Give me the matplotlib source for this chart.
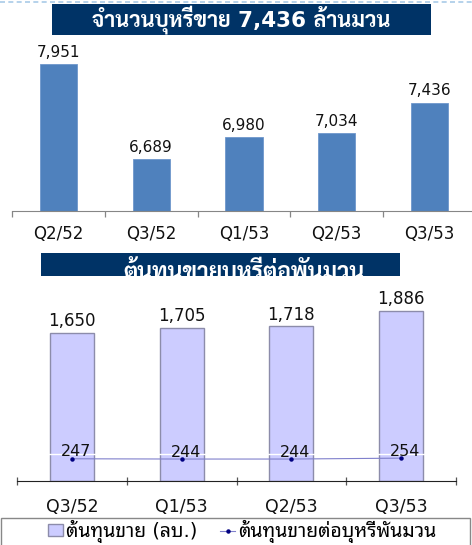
import matplotlib
matplotlib.use("Agg")
import matplotlib.pyplot as plt
import matplotlib.patches as mpatches
from matplotlib.lines import Line2D
import numpy as np

TOP_TITLE = "จำนวนบุหรี่ขาย 7,436 ล้านมวน"
BOTTOM_TITLE = "ต้นทุนขายบุหรี่ต่อพันมวน"

TOP_QUARTERS = ["Q2/52", "Q3/52", "Q1/53", "Q2/53", "Q3/53"]
CIGS_SOLD = [7951, 6689, 6980, 7034, 7436]

BOTTOM_QUARTERS = ["Q3/52", "Q1/53", "Q2/53", "Q3/53"]
COST_OF_SALES = [1650, 1705, 1718, 1886]
COST_PER_THOUSAND = [247, 244, 244, 254]

COST_LABEL = "ต้นทุนขาย (ลบ.)"
PER_LABEL = "ต้นทุนขายต่อบุหรี่พันมวน"

NAVY = "#003366"
W, H = 472, 545
BOLD_FAMILY = ["DejaVu Sans", "Sarabun", "Noto Sans Thai Looped"]


def px_box(x0, y0, x1, y1):
    # pixel box (from top-left) -> figure fraction [left, bottom, width, height]
    return [x0 / W, 1 - y1 / H, (x1 - x0) / W, (y1 - y0) / H]


def main() -> None:
    plt.rcParams["font.family"] = ["DejaVu Sans", "Noto Sans Thai Looped"]

    fig = plt.figure(figsize=(W / 100, H / 100), dpi=100)

    # dashed slide border at the very top
    fig.add_artist(Line2D([0, 1], [1 - 1.5 / H, 1 - 1.5 / H], color="#a9cbe8",
                          lw=1.2, ls=(0, (3, 2)), transform=fig.transFigure))

    # ---- top chart: cigarettes sold ----
    ax1 = fig.add_axes(px_box(12, 60, 476, 211))
    x1 = np.arange(len(TOP_QUARTERS))
    bars = ax1.bar(x1, CIGS_SOLD, width=0.4, color="#4f81bd", edgecolor="#6f97cc",
                   linewidth=0.6, zorder=2)
    for rect, v in zip(bars, CIGS_SOLD):
        ax1.annotate(f"{v:,}", (rect.get_x() + rect.get_width() / 2, v),
                     xytext=(0, 3), textcoords="offset points", ha="center",
                     va="bottom", fontsize=11, color="#111111", annotation_clip=False)
    ax1.set_xlim(-0.5, len(TOP_QUARTERS) - 0.5)
    ax1.set_ylim(6000, 8000)
    ax1.set_yticks([])
    ax1.set_xticks(x1)
    ax1.set_xticklabels(TOP_QUARTERS, fontsize=12, color="#111111")
    ax1.set_xticks(np.arange(-0.5, len(TOP_QUARTERS), 1), minor=True)
    ax1.tick_params(axis="x", which="major", length=0, pad=10)
    ax1.tick_params(axis="x", which="minor", length=4, width=0.9, color="#868686",
                    direction="out")
    for side in ["left", "right", "top"]:
        ax1.spines[side].set_visible(False)
    ax1.spines["bottom"].set_color("#868686")
    ax1.patch.set_alpha(0)

    # top banner
    b1 = mpatches.Rectangle((52 / W, 1 - 35 / H), (431 - 52) / W, 31 / H,
                            transform=fig.transFigure, facecolor=NAVY,
                            edgecolor="none", zorder=3)
    fig.add_artist(b1)
    fig.text(241 / W, 1 - 20 / H, TOP_TITLE, ha="center", va="center", color="white",
             fontsize=15.5, fontweight="bold", family=BOLD_FAMILY, zorder=4)

    # bottom banner (title partly hidden by the chart area, as in the source)
    b2 = mpatches.Rectangle((41 / W, 1 - 276 / H), (400 - 41) / W, 23 / H,
                            transform=fig.transFigure, facecolor=NAVY,
                            edgecolor="none", zorder=3)
    fig.add_artist(b2)
    t2 = fig.text(244 / W, 1 - 279 / H, BOTTOM_TITLE, ha="center", va="baseline",
                  color="white", fontsize=16.5, fontweight="bold", family=BOLD_FAMILY,
                  zorder=4)
    t2.set_clip_path(b2)

    # ---- bottom chart: cost of sales ----
    ax2 = fig.add_axes(px_box(17, 301, 456, 481))
    x2 = np.arange(len(BOTTOM_QUARTERS))
    bars2 = ax2.bar(x2, COST_OF_SALES, width=0.4, color="#ccccff", edgecolor="#8c8caa",
                    linewidth=1.0, zorder=2)
    for rect, v in zip(bars2, COST_OF_SALES):
        ax2.annotate(f"{v:,}", (rect.get_x() + rect.get_width() / 2, v),
                     xytext=(0, 2), textcoords="offset points", ha="center",
                     va="bottom", fontsize=12, color="#111111", annotation_clip=False)
    ax2.axhline(300, color="white", lw=1.0, zorder=2.5)
    line, = ax2.plot(x2, COST_PER_THOUSAND, color="#8080cc", lw=0.8, marker="o",
                     markersize=2.2, markerfacecolor="#000080",
                     markeredgecolor="#000080", zorder=3)
    for xi, v in zip(x2, COST_PER_THOUSAND):
        ax2.annotate(f"{v}", (xi, v), xytext=(3, 5), textcoords="offset points",
                     ha="center", va="center", fontsize=11.5, color="#111111", zorder=4)
    ax2.set_xlim(-0.5, len(BOTTOM_QUARTERS) - 0.5)
    ax2.set_ylim(0, 2000)
    ax2.set_yticks([])
    ax2.set_xticks(x2)
    ax2.set_xticklabels(BOTTOM_QUARTERS, fontsize=12.5, color="#111111")
    ax2.set_xticks(np.arange(-0.5, len(BOTTOM_QUARTERS), 1), minor=True)
    ax2.tick_params(axis="x", which="major", length=0, pad=12)
    ax2.tick_params(axis="x", which="minor", length=6, width=0.9, color="#555555",
                    direction="inout")
    for side in ["left", "right", "top"]:
        ax2.spines[side].set_visible(False)
    ax2.spines["bottom"].set_color("#222222")
    ax2.patch.set_alpha(0)

    # legend with a plain grey box
    frame = mpatches.Rectangle((1 / W, -2 / H), 469 / W, 29 / H, transform=fig.transFigure,
                               facecolor="white", edgecolor="#888888", lw=1.0)
    fig.add_artist(frame)
    fig.legend([bars2, line], [COST_LABEL, PER_LABEL], loc="center",
               bbox_to_anchor=(242 / W, 13.5 / H), ncol=2, frameon=False,
               fontsize=14, handlelength=0.75, handleheight=0.6,
               handletextpad=0.15, columnspacing=1.2,
               borderaxespad=0.0, borderpad=0.2)

    fig.savefig("out.png", dpi=100)


if __name__ == "__main__":
    main()
